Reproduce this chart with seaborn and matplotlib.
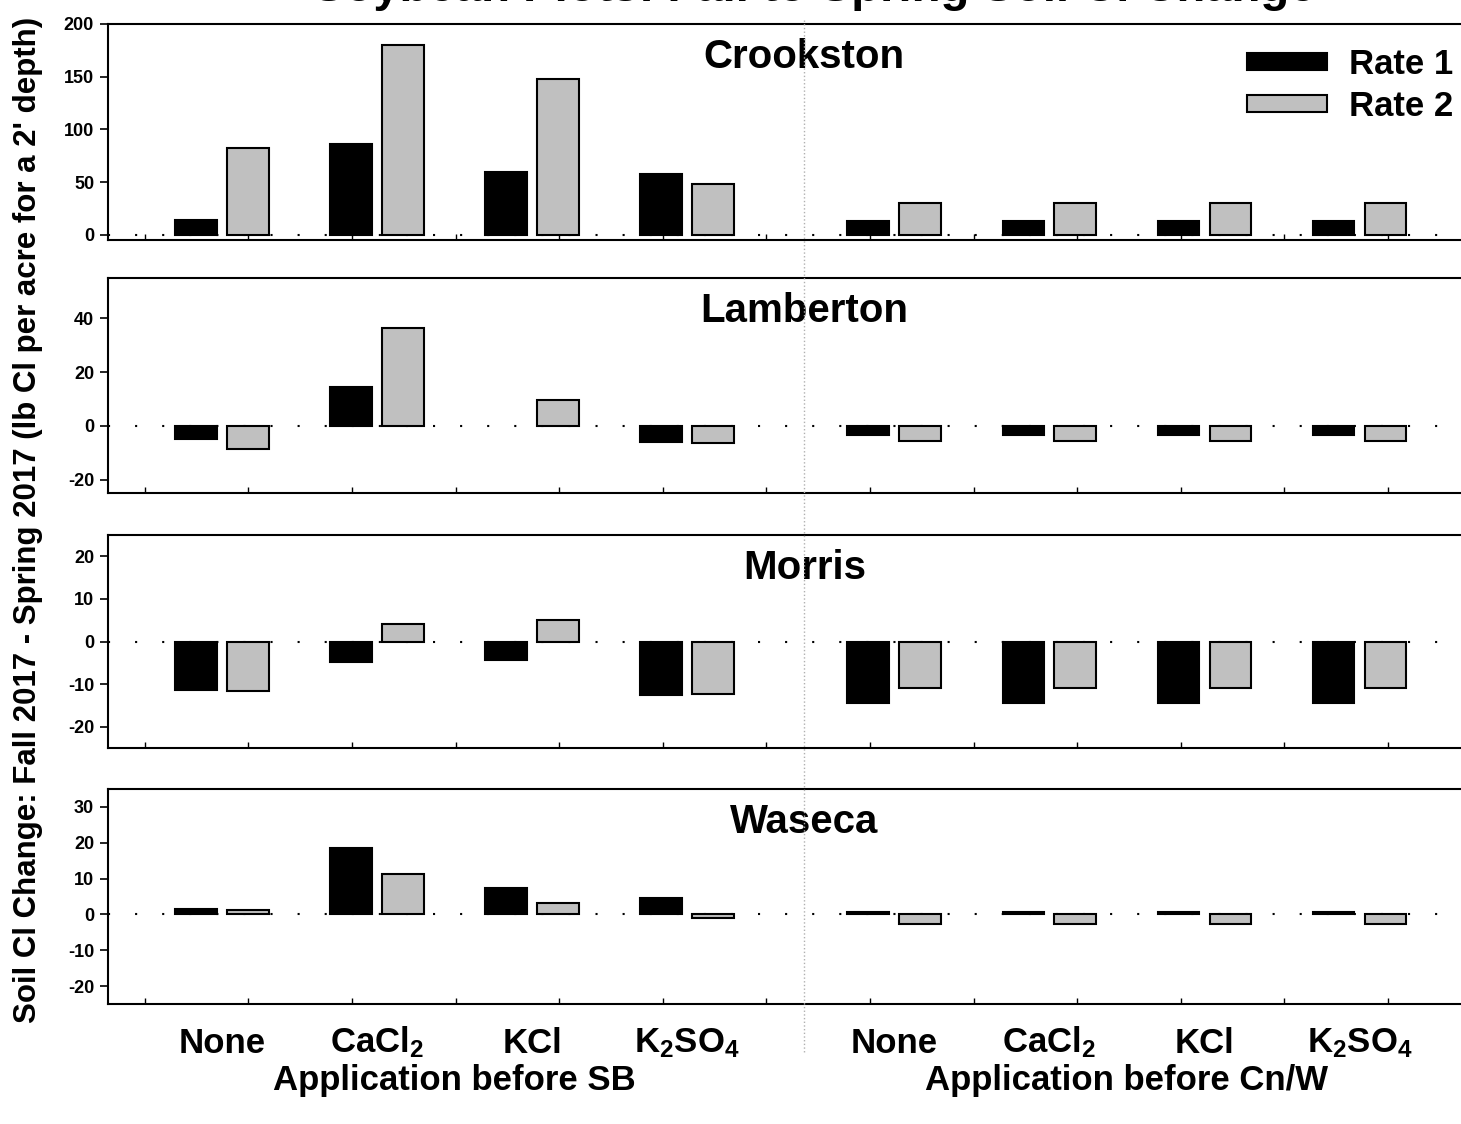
import matplotlib
matplotlib.use("Agg")
import matplotlib.pyplot as plt
import matplotlib.transforms as mtransforms
from matplotlib.lines import Line2D
import numpy as np
import pandas as pd
import seaborn as sns

sites = ["Crookston", "Lamberton", "Morris", "Waseca"]
products = ["None", "CaCl$_2$", "KCl", "K$_2$SO$_4$"]
timings = ["Application before SB", "Application before Cn/W"]
rates = ["Rate 1", "Rate 2"]

# order: SB None, CaCl2, KCl, K2SO4, then Cn/W None, CaCl2, KCl, K2SO4
crookston_r1 = [14, 86, 60, 58, 13, 13, 13, 13]
crookston_r2 = [82, 180, 148, 48, 30, 30, 30, 30]
lamberton_r1 = [-5, 14.5, 0, -6, -3.3, -3.3, -3.3, -3.3]
lamberton_r2 = [-8.5, 36.5, 9.5, -6.5, -5.5, -5.5, -5.5, -5.5]
morris_r1 = [-11.3, -4.8, -4.4, -12.6, -14.5, -14.5, -14.5, -14.5]
morris_r2 = [-11.7, 4.1, 5.1, -12.4, -11.0, -11.0, -11.0, -11.0]
waseca_r1 = [1.4, 18.5, 7.3, 4.5, 0.6, 0.6, 0.6, 0.6]
waseca_r2 = [1.1, 11.2, 3.1, -1.0, -2.8, -2.8, -2.8, -2.8]

values = {
    "Crookston": (crookston_r1, crookston_r2),
    "Lamberton": (lamberton_r1, lamberton_r2),
    "Morris": (morris_r1, morris_r2),
    "Waseca": (waseca_r1, waseca_r2),
}
ylims = {"Crookston": (-5, 200), "Lamberton": (-25, 55),
         "Morris": (-25, 25), "Waseca": (-25, 35)}
yticks = {"Crookston": range(0, 201, 50), "Lamberton": range(-20, 41, 20),
          "Morris": range(-20, 21, 10), "Waseca": range(-20, 31, 10)}

# x positions: 4 product groups per timing, extra gap between timings
group_pos = [t * 4.335 + i for t in range(2) for i in range(4)]
divider_x = 3.755

rows = []
for site in sites:
    for r, rate in enumerate(rates):
        for k, v in enumerate(values[site][r]):
            rows.append({"site": site, "rate": rate, "pos": group_pos[k], "value": v})
df = pd.DataFrame(rows)

sns.set_style("ticks")
plt.rcParams["font.family"] = ["Liberation Sans", "DejaVu Sans"]
plt.rcParams["font.weight"] = "bold"
plt.rcParams["mathtext.default"] = "regular"
plt.rcParams["axes.unicode_minus"] = False
for key in ["text.color", "axes.labelcolor", "xtick.color", "ytick.color", "axes.edgecolor"]:
    plt.rcParams[key] = "black"

W, H = 1461, 1124
fig = plt.figure(figsize=(W / 100, H / 100), dpi=100)
boxes = [(24, 240), (278, 493), (535, 748), (789, 1004)]
palette = {"Rate 1": "black", "Rate 2": "#c0c0c0"}

axes = []
for n, site in enumerate(sites):
    top, bot = boxes[n]
    ax = fig.add_axes([108 / W, 1 - bot / H, 1 - 108 / W, (bot - top) / H])
    axes.append(ax)
    ax.axhline(0, color="black", lw=1.5, ls=(0, (1, 12)), zorder=0.5)
    sns.barplot(data=df[df["site"] == site], x="pos", y="value", hue="rate",
                palette=palette, native_scale=True, width=0.67, gap=0.2,
                edgecolor="black", linewidth=1.5, errorbar=None,
                legend=(n == 0), ax=ax)
    for p in ax.patches:
        if p.get_height() == 0:
            p.set_visible(False)
    ax.set_xlim(-0.735, 7.99)
    ax.set_ylim(*ylims[site])
    ax.set_yticks(list(yticks[site]))
    ax.set_xlabel("")
    ax.set_ylabel("")
    for s in ["top", "left", "bottom"]:
        ax.spines[s].set_linewidth(1.5)
        ax.spines[s].set_color("black")
    ax.spines["right"].set_visible(False)
    ax.tick_params(axis="y", direction="out", length=6, width=1.2, labelsize=13, pad=4)
    ax.set_xticks(np.arange(-0.497, 8, 0.668), minor=True)
    ax.tick_params(axis="x", which="minor", direction="in", length=4, width=1)
    ax.set_xticks(group_pos)
    ax.tick_params(axis="x", which="major", length=0)
    if n < 3:
        ax.set_xticklabels([])
    else:
        ax.set_xticklabels(products * 2, fontsize=25, fontweight="bold")
        ax.tick_params(axis="x", which="major", pad=35)
        for lab in ax.get_xticklabels():
            lab.set_verticalalignment("baseline")
    for lab in ax.get_yticklabels():
        lab.set_fontweight("bold")
    trans = mtransforms.blended_transform_factory(ax.transData, ax.transAxes)
    ax.text(divider_x, 0.845, site, transform=trans, ha="center", va="center",
            fontsize=29, fontweight="bold")

# legend
leg = axes[0].get_legend()
handles = leg.legend_handles
labels = [t.get_text() for t in leg.get_texts()]
axes[0].legend(handles, labels, loc="upper right", bbox_to_anchor=(1.01, 0.985),
               frameon=False, handlelength=2.3, handleheight=0.35,
               labelspacing=0.25, handletextpad=0.65, borderaxespad=0.2,
               prop={"weight": "bold", "size": 25})

# group labels under bottom panel
bax = axes[-1]
btrans = mtransforms.blended_transform_factory(bax.transData, fig.transFigure)
for t, label in enumerate(timings):
    xc = np.mean(group_pos[t * 4:(t + 1) * 4])
    bax.text(xc, 1 - 1090 / H, label, transform=btrans, ha="center", va="baseline",
             fontsize=25, fontweight="bold")

# vertical divider across panels
fig.add_artist(Line2D([divider_x, divider_x], [1 - 20 / H, 1 - 1052 / H],
                      transform=btrans, color="#b0b0b0", lw=1, ls=":"))

fig.text(28 / W, 1 - 520 / H,
         "Soil Cl Change: Fall 2017 - Spring 2017 (lb Cl per acre for a 2' depth)",
         rotation=90, ha="center", va="center", fontsize=22.5, fontweight="bold")

fig.text(814 / W, 1 - 1 / H, "Soybean Plots: Fall to Spring Soil Cl Change",
         ha="center", va="baseline", fontsize=34, fontweight="bold")

fig.savefig("out.png", dpi=100)
